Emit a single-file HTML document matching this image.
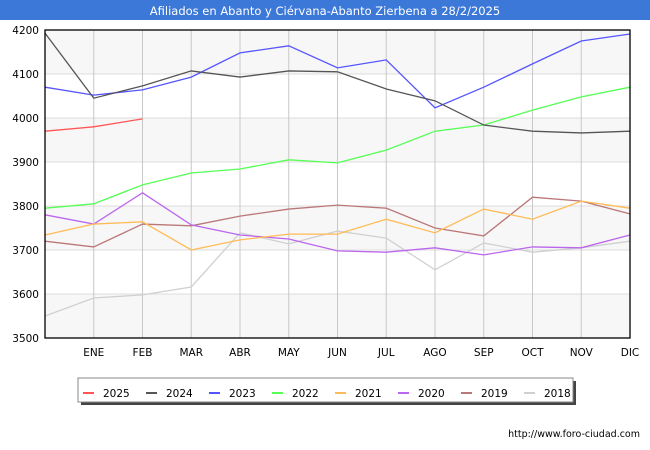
<!DOCTYPE html>
<html><head><meta charset="utf-8"><style>
body{margin:0;background:#fff;font-family:"DejaVu Sans",sans-serif;}
#wrap{position:relative;width:650px;height:450px;overflow:hidden}
</style></head><body>
<div id="wrap">
<svg id="svg" width="650" height="450" xmlns="http://www.w3.org/2000/svg" font-family="DejaVu Sans, Liberation Sans, sans-serif">
<rect x="0" y="0" width="650" height="20" fill="#3c78d8"/>
<text x="325" y="15" text-anchor="middle" font-size="11.5" fill="#fff">Afiliados en Abanto y Ciérvana-Abanto Zierbena a 28/2/2025</text>
<g id="bands"></g><g id="grid"></g><g id="lines"></g><g id="axes"></g>
<rect x="45" y="30" width="585" height="308" fill="none" stroke="#000" stroke-width="1.3"/>
<rect x="81" y="381" width="495" height="24" fill="#444"/>
<rect x="78" y="378" width="495" height="24" fill="#fff" stroke="#888"/>
<g id="legend"></g>
<text x="640" y="437" text-anchor="end" font-size="9.5" fill="#000">http://www.foro-ciudad.com</text>
</svg>
</div>
<script>
const months=["","ENE","FEB","MAR","ABR","MAY","JUN","JUL","AGO","SEP","OCT","NOV","DIC"];
const yTicks=[3500,3600,3700,3800,3900,4000,4100,4200];
const seriesNames=["2025","2024","2023","2022","2021","2020","2019","2018"];
const seriesColors=["#ff5555","#555555","#5555ff","#55ff55","#ffbb55","#bb66ee","#bb7777","#d0d0d0"];
const s2025=[3970,3980,3998];
const s2024=[4193,4045,4073,4107,4093,4107,4105,4066,4039,3984,3970,3966,3970];
const s2023=[4070,4052,4064,4093,4148,4164,4114,4132,4023,4070,4123,4175,4191];
const s2022=[3795,3805,3848,3875,3884,3905,3898,3927,3970,3984,4018,4048,4070];
const s2021=[3734,3759,3764,3700,3723,3736,3736,3770,3739,3793,3770,3811,3795];
const s2020=[3780,3759,3830,3757,3734,3725,3698,3695,3705,3689,3707,3705,3734];
const s2019=[3720,3707,3759,3755,3777,3793,3802,3795,3750,3732,3820,3811,3782];
const s2018=[3550,3591,3598,3616,3739,3714,3743,3727,3655,3716,3695,3705,3720];
const allSeries=[s2025,s2024,s2023,s2022,s2021,s2020,s2019,s2018];
const X0=45,X1=630,Y0=338,Y1=30,VMIN=3500,VMAX=4200;
const x=i=>X0+i*(X1-X0)/(months.length-1);
const y=v=>Y0-(v-VMIN)*(Y0-Y1)/(VMAX-VMIN);
const NS="http://www.w3.org/2000/svg";
function mk(t,a,p){const e=document.createElementNS(NS,t);for(const k in a)e.setAttribute(k,a[k]);p.appendChild(e);return e;}
const bands=document.getElementById('bands'),grid=document.getElementById('grid'),lines=document.getElementById('lines'),axes=document.getElementById('axes'),leg=document.getElementById('legend');
for(let i=0;i<yTicks.length-1;i++){
  const top=yTicks[yTicks.length-1-i],bot=yTicks[yTicks.length-2-i];
  const r=mk('rect',{x:X0,y:y(top),width:X1-X0,height:y(bot)-y(top),fill:i%2==0?'#f7f7f7':'#ffffff'},bands);
  
  
}
yTicks.forEach(v=>{
  const l=mk('line',{x1:X0,x2:X1,y1:y(v),y2:y(v),stroke:'#dddddd'},grid);
  
  
  const t=mk('text',{x:X0-6,y:y(v)+4,'text-anchor':'end','font-size':10.5,fill:'#000'},axes);
  t.textContent=v;
  
  
});
months.forEach((m,i)=>{
  if(i==0)return;
  const l=mk('line',{x1:x(i),x2:x(i),y1:Y1,y2:Y0,stroke:'#c8c8c8'},grid);
  
  
  const t=mk('text',{x:x(i),y:356,'text-anchor':'middle','font-size':10.5,fill:'#000'},axes);
  t.textContent=m;
  
  
});
for(let k=allSeries.length-1;k>=0;k--){
  const pts=allSeries[k].map((v,i)=>x(i)+','+y(v)).join(' ');
  const p=mk('polyline',{points:pts,fill:'none',stroke:seriesColors[k],'stroke-width':1.3},lines);
  
  
}
seriesNames.forEach((n,k)=>{
  const lx=83+k*63;
  const l=mk('line',{x1:lx,x2:lx+11,y1:393,y2:393,stroke:seriesColors[k],'stroke-width':2},leg);
  
  
  const t=mk('text',{x:lx+20,y:397,'font-size':10.5,fill:'#000'},leg);
  t.textContent=n;
  
  
});
</script>
</body></html>
